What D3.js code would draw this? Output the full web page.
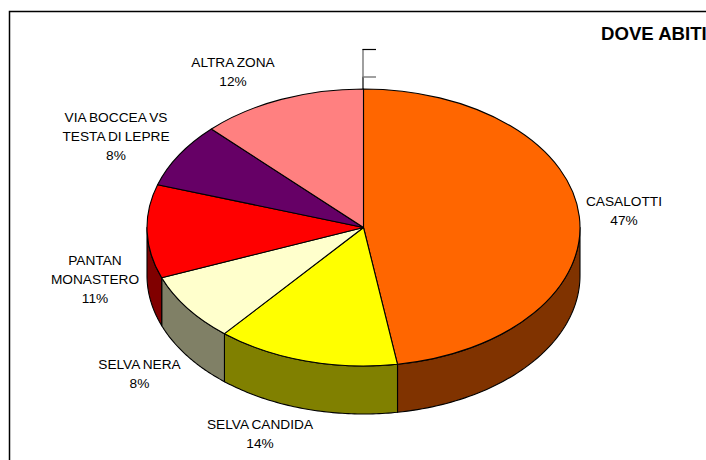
<!DOCTYPE html>
<html><head><meta charset="utf-8">
<script src="https://cdn.jsdelivr.net/npm/d3@7/dist/d3.min.js"></script>
<style>html,body{margin:0;padding:0;background:#fff}svg{display:block}
text{font-family:"Liberation Sans",Arial,sans-serif;font-size:13.7px;fill:#000;letter-spacing:0;word-spacing:-.7px}</style>
</head><body><script>
const categories=[["CASALOTTI"],["SELVA CANDIDA"],["SELVA NERA"],["PANTAN","MONASTERO"],["VIA BOCCEA VS","TESTA DI LEPRE"],["ALTRA ZONA"]];
const values=[47.49,13.61,8.0,10.9,7.6,12.4];
const topColors=["#FF6600","#FFFF00","#FFFFCC","#FF0000","#660066","#FF8080"];
const wallColors=["#803300","#808000","#808066","#800000","#330033","#804040"];
const titleText="DOVE ABITI";

const W=706,H=460,cx=363.5,cy=227.5,rx=216.5,ry=138.5,depth=48;
const svg=d3.select("body").append("svg").attr("width",W).attr("height",H);
// frame (runs off the right and bottom of the window)
svg.append("path").attr("d",`M9.5,${H+5}V11.5H${W+5}`).attr("fill","none").attr("stroke","#000").attr("stroke-width",1.5);

const total=d3.sum(values);
const pie=d3.pie().sort(null).value(d=>d);
const arcs=pie(values);
const X=d3.scaleLinear().domain([-1,1]).range([cx-rx,cx+rx]);
const Y=d3.scaleLinear().domain([-1,1]).range([cy-ry,cy+ry]);
const px=a=>X(Math.sin(a)), py=a=>Y(-Math.cos(a));
const line=d3.line();

// side walls: only the front half of the rim
arcs.forEach((d,i)=>{
  const a0=Math.max(d.startAngle,Math.PI/2),a1=Math.min(d.endAngle,3*Math.PI/2);
  if(a1<=a0)return;
  const steps=d3.range(0,61).map(k=>a0+(a1-a0)*k/60);
  const rim=steps.map(a=>[px(a),py(a)]);
  const low=steps.slice().reverse().map(a=>[px(a),py(a)+depth]);
  svg.append("path").attr("d",line(rim.concat(low))+"Z")
    .attr("fill",wallColors[i]).attr("stroke","#000").attr("stroke-width",1.1).attr("stroke-linejoin","round");
});

// top faces
const arc=d3.arc().innerRadius(0).outerRadius(rx);
const topG=svg.append("g").attr("transform",`translate(${cx},${cy}) scale(1,${ry/rx})`);
topG.selectAll("path").data(arcs).join("path")
  .attr("d",arc).attr("fill",(d,i)=>topColors[i])
  .attr("stroke","#000").attr("stroke-width",1.1).attr("vector-effect","non-scaling-stroke").attr("stroke-linejoin","round");

// leftover leader marks above the pie
svg.append("path").attr("d",`M${cx-.5},49V77`).attr("stroke","#777").attr("stroke-width",1.4).attr("fill","none");
svg.append("path").attr("d",`M${cx-.5},77V89`).attr("stroke","#000").attr("stroke-width",1.2).attr("fill","none");
svg.append("path").attr("d",`M${cx-1},49.5H376`).attr("stroke","#000").attr("stroke-width",1.2).attr("fill","none");
svg.append("path").attr("d",`M${cx-1},77H376`).attr("stroke","#777").attr("stroke-width",1.4).attr("fill","none");

// labels
const labelAnchors=[[624,206],[260,429],[139.5,369],[95,265],[116,122],[233,67]];
categories.forEach((lines,i)=>{
  const t=svg.append("text").attr("text-anchor","middle");
  const all=lines.concat([Math.round(values[i]/total*100)+"%"]);
  all.forEach((s,k)=>t.append("tspan").attr("x",labelAnchors[i][0]).attr("y",labelAnchors[i][1]+k*19).text(s));
});
svg.append("text").attr("x",601).attr("y",39.5).style("font-size","18.6px").style("font-weight","bold").style("letter-spacing","0").style("word-spacing","0").text(titleText);
</script></body></html>
